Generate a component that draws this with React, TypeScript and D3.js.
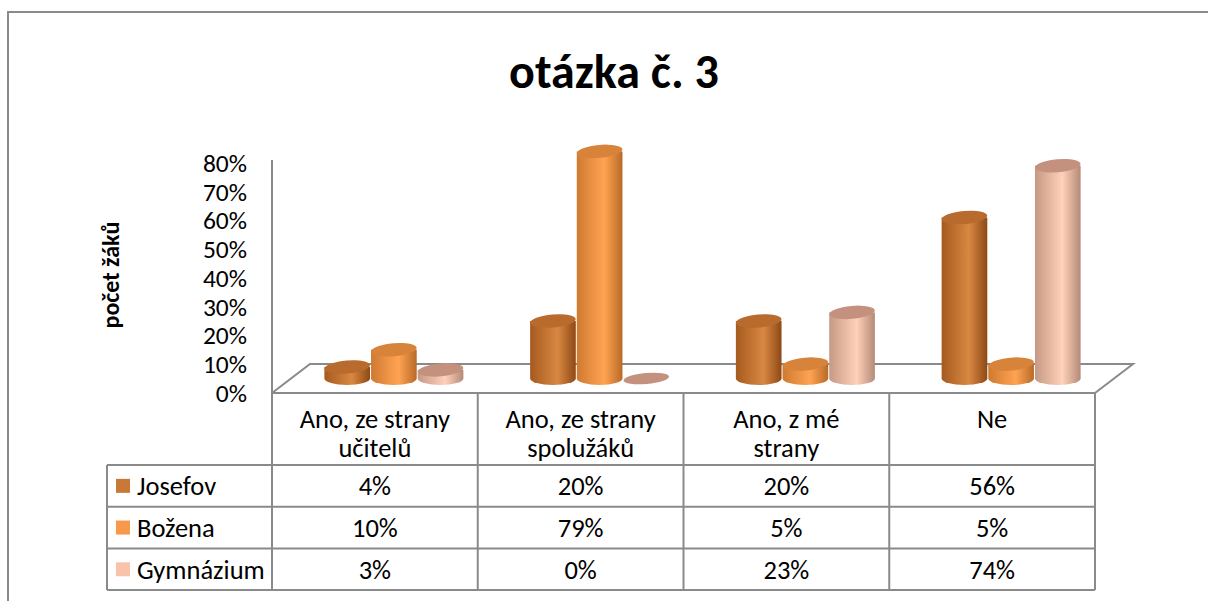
import React, { useEffect } from "react";
import * as d3 from "d3";

const title = "otázka č. 3";
const yAxisTitle = "počet žáků";
const categories = ["Ano, ze strany učitelů", "Ano, ze strany spolužáků", "Ano, z mé strany", "Ne"];
const categoryLines = [["Ano, ze strany", "učitelů"], ["Ano, ze strany", "spolužáků"], ["Ano, z mé", "strany"], ["Ne"]];
const seriesNames = ["Josefov", "Božena", "Gymnázium"];
const josefov = [4, 20, 20, 56];
const bozena = [10, 79, 5, 5];
const gymnazium = [3, 0, 23, 74];
const seriesValues = [josefov, bozena, gymnazium];
const yTicks = [0, 10, 20, 30, 40, 50, 60, 70, 80];

const legendColors = ["#C87837", "#F7984A", "#F9C3A9"];
const bodyStops = [
  ["#A55A1E", "#D98842", "#8E4916"],
  ["#CF7A31", "#FFA352", "#B96A28"],
  ["#C69984", "#FFD1BA", "#B48A78"],
];
const topColors = ["#B96B2D", "#D8833A", "#C4917F"];

const FONT = "Carlito, Calibri, Lato, 'Noto Sans', sans-serif";
const GRID = "#8a8a8a";

export default function App() {
  useEffect(() => {
    document.body.style.margin = "0";
  }, []);

  const W = 1208, H = 601;
  const plotL = 272, plotR = 1095;
  const frontY = 393;
  const depthDx = 38, depthDy = -29;
  const tableTop = frontY, headerBottom = 465, rowH = 41.7;
  const legendL = 107;
  const tableFont = 26.5;

  const x = d3.scaleBand<string>().domain(categories).range([plotL, plotR]);
  const yFront = d3.scaleLinear().domain([0, 80]).range([frontY, frontY - 230]);
  const baseY = frontY + depthDy / 2;
  const yBar = d3.scaleLinear().domain([0, 80]).range([baseY, baseY - 230]);
  const inner = d3.scaleBand<string>().domain(seriesNames).range([-70, 70]);
  const rx = inner.bandwidth() / 2 - 0.5;
  const ry = 6.5;

  const rows = seriesNames.map((_, i) => headerBottom + i * rowH);
  const tableBottom = headerBottom + 3 * rowH;

  const bars: React.ReactNode[] = [];
  categories.forEach((c, ci) => {
    const gx = (x(c) as number) + x.bandwidth() / 2 + depthDx / 2;
    seriesNames.forEach((s, si) => {
      const v = seriesValues[si][ci];
      const cx = gx + (inner(s) as number) + inner.bandwidth() / 2;
      const yt = yBar(v);
      const yb = yBar(0);
      const key = `b${ci}-${si}`;
      if (v <= 0) {
        bars.push(
          <ellipse key={key} cx={cx} cy={yb} rx={rx} ry={ry - 1} fill={topColors[si]}
            transform={`rotate(-5 ${cx} ${yb})`} />
        );
        return;
      }
      const body = `M${cx - rx},${yt} L${cx - rx},${yb} A${rx},${ry} 0 0 0 ${cx + rx},${yb} L${cx + rx},${yt} Z`;
      bars.push(
        <g key={key}>
          <path d={body} fill={`url(#grad${si})`} />
          <ellipse cx={cx} cy={yt} rx={rx} ry={ry} fill={topColors[si]}
            transform={`rotate(-5 ${cx} ${yt})`} />
        </g>
      );
    });
  });

  return (
    <svg width={W} height={H} style={{ display: "block", background: "#fff" }} fontFamily={FONT}>
      <defs>
        {bodyStops.map((st, i) => (
          <linearGradient key={i} id={`grad${i}`} x1="0" x2="1" y1="0" y2="0">
            <stop offset="0%" stopColor={st[0]} />
            <stop offset="60%" stopColor={st[1]} />
            <stop offset="100%" stopColor={st[2]} />
          </linearGradient>
        ))}
      </defs>
      <rect x={8} y={12} width={1400} height={800} fill="none" stroke={GRID} strokeWidth={2} />

      <text x={614} y={88} textAnchor="middle" fontWeight="bold" fontSize={48} fill="#000">{title}</text>

      <text transform={`translate(119,275) rotate(-90)`} textAnchor="middle" fontWeight="bold" fontSize={24} fill="#000">{yAxisTitle}</text>

      {yTicks.map((t) => (
        <text key={t} x={247} y={yFront(t)} dy="0.35em" textAnchor="end" fontSize={25.5} fill="#000">{t}%</text>
      ))}

      {/* floor */}
      <polyline
        points={`${plotL},${frontY} ${plotL + depthDx},${frontY + depthDy} ${plotR + depthDx},${frontY + depthDy} ${plotR},${frontY}`}
        fill="none" stroke={GRID} strokeWidth={2} />
      <line x1={plotL} x2={plotL} y1={160} y2={tableBottom} stroke={GRID} strokeWidth={2} />

      {bars}

      {/* table */}
      <line x1={plotL} x2={plotR} y1={tableTop} y2={tableTop} stroke={GRID} strokeWidth={2} />
      {[...rows, tableBottom].map((ry2, i) => (
        <line key={i} x1={legendL} x2={plotR} y1={ry2} y2={ry2} stroke={GRID} strokeWidth={2} />
      ))}
      <line x1={legendL} x2={legendL} y1={headerBottom} y2={tableBottom} stroke={GRID} strokeWidth={2} />
      {categories.map((c) => (
        <line key={c} x1={(x(c) as number) + x.bandwidth()} x2={(x(c) as number) + x.bandwidth()} y1={tableTop} y2={tableBottom} stroke={GRID} strokeWidth={2} />
      ))}
      {categories.map((c, ci) => (
        <text key={c} textAnchor="middle" fontSize={tableFont} fill="#000">
          {categoryLines[ci].map((ln, li) => (
            <tspan key={li} x={(x(c) as number) + x.bandwidth() / 2} y={428 + li * 29}>{ln}</tspan>
          ))}
        </text>
      ))}
      {seriesNames.map((s, si) => (
        <g key={s}>
          <rect x={116} y={rows[si] + rowH / 2 - 7} width={14} height={14} fill={legendColors[si]} />
          <text x={137} y={rows[si] + rowH / 2} dy="0.35em" fontSize={tableFont} fill="#000">{s}</text>
          {categories.map((c, ci) => (
            <text key={c} x={(x(c) as number) + x.bandwidth() / 2} y={rows[si] + rowH / 2} dy="0.35em" textAnchor="middle" fontSize={tableFont} fill="#000">
              {seriesValues[si][ci]}%
            </text>
          ))}
        </g>
      ))}
    </svg>
  );
}
